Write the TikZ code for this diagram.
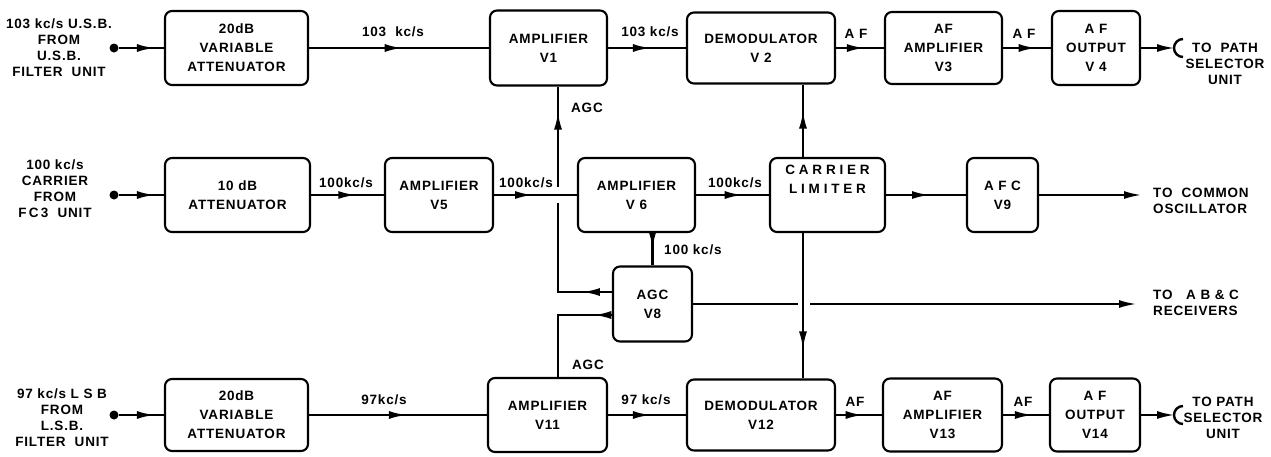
\documentclass[tikz,border=0pt]{standalone}
\usepackage{fontspec}
\setmainfont{Liberation Sans}[LetterSpace=6]
\usetikzlibrary{arrows.meta,decorations.markings}
\tikzset{
  blk/.style={draw, line width=2.1pt, rounded corners=7pt, align=center,
    font=\fontsize{13.5}{19}\selectfont\bfseries, inner sep=0pt},
  wire/.style={line width=2.4pt},
  midarrow/.style={postaction={decorate}, decoration={markings,
    mark=at position #1 with {\arrow{Latex[length=18pt,width=8pt]}}}},
  endarrow/.style={-{Latex[length=18pt,width=8pt]}},
  lbl/.style={font=\fontsize{13.5}{15}\selectfont\bfseries, inner sep=0pt},
  txt/.style={font=\fontsize{13.5}{16}\selectfont\bfseries, align=center, inner sep=0pt},
  term/.style={circle, fill, inner sep=0pt, minimum size=9pt},
}
\begin{document}
\begin{tikzpicture}[x=1pt,y=-1pt]
\useasboundingbox (0,0) rectangle (1271,456);
% ---------- row 1 ----------
\node[txt] (src1) at (59,48) {103 kc/s U.S.B.\\FROM\\U.S.B.\\FILTER\ \ UNIT};
\node[term] (in1) at (114,48) {};
\node[blk, minimum width=143pt, minimum height=74pt] (att1) at (236.5,48) {20dB\\VARIABLE\\ATTENUATOR};
\node[blk, minimum width=117pt, minimum height=75pt] (v1) at (548.5,48) {AMPLIFIER\\V1};
\node[blk, minimum width=148pt, minimum height=71pt] (v2) at (761,48) {DEMODULATOR\\V 2};
\node[blk, minimum width=117pt, minimum height=72pt] (v3) at (943.5,48) {AF\\AMPLIFIER\\V3};
\node[blk, minimum width=88pt, minimum height=74pt] (v4) at (1096,48) {A F\\OUTPUT\\V 4};
\coordinate (out1) at (1175,48);
\node[txt] (dst1) at (1225,64) {TO\ \ PATH\\SELECTOR\\UNIT};
% ---------- row 2 ----------
\node[txt] (src2) at (55,189) {100 kc/s\\CARRIER\\FROM\\F\,C\,3\ \ UNIT};
\node[term] (in2) at (114,195) {};
\node[blk, minimum width=145pt, minimum height=74pt] (att2) at (237.5,195) {10 dB\\ATTENUATOR};
\node[blk, minimum width=108pt, minimum height=74pt] (v5) at (439,195) {AMPLIFIER\\V5};
\node[blk, minimum width=117pt, minimum height=74pt] (v6) at (636.5,195) {AMPLIFIER\\V 6};
\node[blk, minimum width=115pt, minimum height=74pt,
  font=\fontsize{13.5}{19}\selectfont\bfseries\addfontfeature{LetterSpace=28}] (cl) at (827.5,195) {CARRIER\\LIMITER\\[12pt]};
\node[blk, minimum width=71pt, minimum height=74pt] (v9) at (1002.5,195) {A F C\\V9};
\coordinate (osc) at (1142,195);
\node[txt, align=left, anchor=west] (dst2) at (1153,201) {TO\ \ COMMON\\OSCILLATOR};
% ---------- AGC ----------
\node[blk, minimum width=79pt, minimum height=75pt] (v8) at (652.5,304) {AGC\\V8};
\coordinate (agcx) at (558,0);
\coordinate (clx) at (803,0);
\coordinate (a1) at (558,292);
\coordinate (a2) at (558,203);
\coordinate (a3) at (558,187);
\coordinate (b1) at (558,315);
\coordinate (g1) at (798,304);
\coordinate (g2) at (810,304);
\coordinate (rcv) at (1137,304);
\node[txt, align=left, anchor=west] (dst3) at (1153,303) {TO\ \ \ A B \& C\\RECEIVERS};
% ---------- row 3 ----------
\node[txt] (src3) at (62,418) {97 kc/s L S B\\FROM\\L.S.B.\\FILTER\ \ UNIT};
\node[term] (in3) at (114,415) {};
\node[blk, minimum width=143pt, minimum height=72pt] (att3) at (236.5,415) {20dB\\VARIABLE\\ATTENUATOR};
\node[blk, minimum width=119pt, minimum height=74pt] (v11) at (547.5,415) {AMPLIFIER\\V11};
\node[blk, minimum width=148pt, minimum height=71pt] (v12) at (761,415) {DEMODULATOR\\V12};
\node[blk, minimum width=119pt, minimum height=73pt] (v13) at (942.5,415) {AF\\AMPLIFIER\\V13};
\node[blk, minimum width=90pt, minimum height=73pt] (v14) at (1095,415) {A F\\OUTPUT\\V14};
\coordinate (out2) at (1175,415);
\node[txt] (dst4) at (1223,418) {TO PATH\\SELECTOR\\UNIT};
% ---------- connectors row 1 ----------
\draw[wire,midarrow=0.8] (in1) -- (att1.west);
\draw[wire,midarrow=0.52] (att1.east) -- (v1.west);
\draw[wire,midarrow=0.55] (v1.east) -- (v2.west);
\draw[wire,midarrow=0.6] (v2.east) -- (v3.west);
\draw[wire,midarrow=0.7] (v3.east) -- (v4.west);
\draw[wire,endarrow] (v4.east) -- (out1);
\draw[wire] (out1) ++(8,-9) arc[start angle=270,end angle=90,radius=9];
% ---------- connectors row 2 ----------
\draw[wire,midarrow=0.8] (in2) -- (att2.west);
\draw[wire,midarrow=0.62] (att2.east) -- (v5.west);
\draw[wire,midarrow=0.47] (v5.east) -- (v6.west);
\draw[wire,midarrow=0.64] (v6.east) -- (cl.west);
\draw[wire,midarrow=0.55] (cl.east) -- (v9.west);
\draw[wire,endarrow] (v9.east) -- (osc);
% ---------- AGC connectors ----------
\draw[wire,midarrow=0.5] (v8.north |- v6.south) -- (v8.north);
\draw[wire,midarrow=0.21] (v8.west |- a1) -- (a1) -- (a2);
\draw[wire,midarrow=0.75] (a3) -- (v1.south -| a3);
\draw[wire,midarrow=0.16] (v8.west |- b1) -- (b1) -- (v11.north -| b1);
\draw[wire] (v8.east |- g1) -- (g1);
\draw[wire,endarrow] (g2) -- (rcv);
\draw[wire,midarrow=0.64] (cl.north -| clx) -- (v2.south -| clx);
\draw[wire,midarrow=0.8] (cl.south -| clx) -- (v12.north -| clx);
% ---------- connectors row 3 ----------
\draw[wire,midarrow=0.8] (in3) -- (att3.west);
\draw[wire,midarrow=0.55] (att3.east) -- (v11.west);
\draw[wire,midarrow=0.55] (v11.east) -- (v12.west);
\draw[wire,midarrow=0.6] (v12.east) -- (v13.west);
\draw[wire,midarrow=0.65] (v13.east) -- (v14.west);
\draw[wire,endarrow] (v14.east) -- (out2);
\draw[wire] (out2) ++(8,-9) arc[start angle=270,end angle=90,radius=9];
% ---------- labels ----------
\node[lbl] (l1) at (393,32) {103\ \ kc/s};
\node[lbl] (l2) at (650,32) {103 kc/s};
\node[lbl] (l3) at (856,34) {A F};
\node[lbl] (l4) at (1024,34) {A F};
\node[lbl] (l5) at (587,108) {AGC};
\node[lbl] (l6) at (346,183) {100kc/s};
\node[lbl] (l7) at (526,183) {100kc/s};
\node[lbl] (l8) at (735,183) {100kc/s};
\node[lbl, anchor=west] (l9) at (664,250) {100 kc/s};
\node[lbl] (l10) at (588,365) {AGC};
\node[lbl] (l11) at (384,400) {97kc/s};
\node[lbl] (l12) at (646,400) {97 kc/s};
\node[lbl] (l13) at (855,402) {AF};
\node[lbl] (l14) at (1023,402) {AF};
\end{tikzpicture}
\end{document}
